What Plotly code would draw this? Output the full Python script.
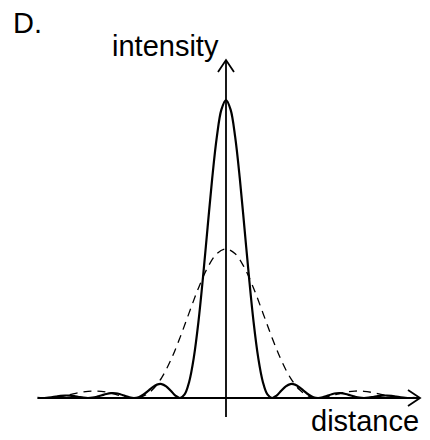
import numpy as np
import plotly.graph_objects as go

# Solid curve (narrow pattern), sampled at distance -4.1 .. 4.1 (step 0.1), intensity relative to its peak
solid_half = [1.0, 0.9675, 0.8751, 0.7368, 0.5728, 0.4053, 0.2546, 0.1353, 0.0547, 0.0119,
              0.0, 0.0080, 0.0243, 0.0392, 0.0468, 0.0450, 0.0358, 0.0229, 0.0108, 0.0027,
              0.0, 0.0022, 0.0072, 0.0125, 0.0159, 0.0162, 0.0136, 0.0091, 0.0045, 0.0011,
              0.0, 0.0010, 0.0034, 0.0061, 0.0079, 0.0083, 0.0071, 0.0048, 0.0024, 0.0006,
              0.0, 0.0006]
solid_y = solid_half[:0:-1] + solid_half
solid_x = list(np.round(np.linspace(-4.1, 4.1, len(solid_y)), 2))

# Dashed curve (broad pattern), sampled at distance -4.0 .. 4.0 (step 0.2)
dashed_half = [0.5, 0.4838, 0.4376, 0.3684, 0.2864, 0.2026, 0.1273, 0.0677, 0.0274, 0.0060,
               0.0, 0.0040, 0.0122, 0.0196, 0.0234, 0.0225, 0.0179, 0.0115, 0.0054, 0.0014, 0.0]
dashed_y = dashed_half[:0:-1] + dashed_half
dashed_x = list(np.round(np.linspace(-4.0, 4.0, len(dashed_y)), 2))

OFF = 8                    # page body margin
W, H = 430 - OFF, 440 - OFF
CX, BY = 226, 398          # pixel position of origin (window coords)
SX, SY = 46.0, 298.0       # pixels per unit
XTIP = 420                 # right arrow tip (window px)

def dx(px):
    return (px - CX) / SX

def dy(py):
    return (BY - py) / SY

def px_x(px):
    return (px - OFF) / W

def px_y(py):
    return 1 - (py - OFF) / H

fig = go.Figure()
fig.add_trace(go.Scatter(x=dashed_x, y=dashed_y, mode="lines",
                         line=dict(color="black", width=1.3, dash="8px,6px", shape="spline")))
fig.add_trace(go.Scatter(x=solid_x, y=solid_y, mode="lines",
                         line=dict(color="black", width=2.2, shape="spline")))

axis_line = dict(color="black", width=1.8)
shapes = [
    dict(type="line", x0=0, x1=0, y0=dy(417), y1=dy(60), line=axis_line),
    dict(type="line", x0=dx(38), x1=dx(XTIP), y0=0, y1=0, line=axis_line),
    dict(type="path", path=f"M {dx(218)},{dy(72)} L 0,{dy(60)} L {dx(234)},{dy(72)}", line=axis_line),
    dict(type="path", path=f"M {dx(XTIP - 12)},{dy(390)} L {dx(XTIP)},0 L {dx(XTIP - 12)},{dy(406)}",
         line=axis_line),
]

font = dict(family="Liberation Sans, Arial", size=29, color="black")
annotations = [
    dict(text="D.", x=px_x(11), y=px_y(23), xref="paper", yref="paper",
         xanchor="left", yanchor="middle", showarrow=False, font=font),
    dict(text="intensity", x=px_x(110), y=px_y(46), xref="paper", yref="paper",
         xanchor="left", yanchor="middle", showarrow=False, font=font),
    dict(text="distance", x=px_x(421), y=px_y(421), xref="paper", yref="paper",
         xanchor="right", yanchor="middle", showarrow=False, font=font),
]

fig.update_layout(
    width=W, height=H,
    margin=dict(l=0, r=0, t=0, b=0),
    paper_bgcolor="white", plot_bgcolor="white",
    showlegend=False,
    xaxis=dict(range=[dx(OFF), dx(OFF + W)], visible=False, fixedrange=True),
    yaxis=dict(range=[dy(OFF + H), dy(OFF)], visible=False, fixedrange=True),
    shapes=shapes,
    annotations=annotations,
)

fig.write_html("out.html")
